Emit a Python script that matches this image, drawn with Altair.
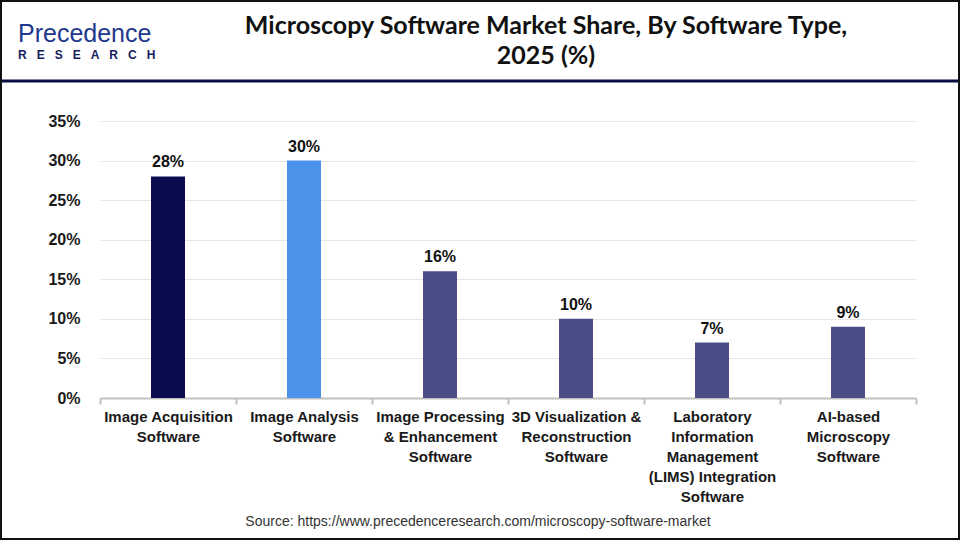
import json
import altair as alt
import pandas as pd

# Market share by software type, 2025 (%)
categories = [
    "Image Acquisition Software",
    "Image Analysis Software",
    "Image Processing & Enhancement Software",
    "3D Visualization & Reconstruction Software",
    "Laboratory Information Management (LIMS) Integration Software",
    "AI-based Microscopy Software",
]
label_lines = [
    ["Image Acquisition", "Software"],
    ["Image Analysis", "Software"],
    ["Image Processing", "& Enhancement", "Software"],
    ["3D Visualization &", "Reconstruction", "Software"],
    ["Laboratory", "Information", "Management", "(LIMS) Integration", "Software"],
    ["AI-based", "Microscopy", "Software"],
]
shares = [28, 30, 16, 10, 7, 9]
bar_colors = ["#0b0b50", "#4a92ea", "#4b4e86", "#4b4e86", "#4b4e86", "#4b4e86"]
y_ticks = [0, 5, 10, 15, 20, 25, 30, 35]

title_lines = ["Microscopy Software Market Share, By Software Type,", "2025 (%)"]
source_text = "Source: https://www.precedenceresearch.com/microscopy-software-market"

df = pd.DataFrame({"category": categories, "share": shares})

# multi-line x labels: look up each category's lines by its index
label_expr = "{}[indexof({}, datum.label)]".format(
    json.dumps(label_lines).replace('"', "'"),
    json.dumps(categories).replace('"', "'"),
)

PLOT_W, PLOT_H = 816, 277
PAD = {"left": 100, "top": 121, "right": 44, "bottom": 142}

base = alt.Chart(df)

x_enc = alt.X(
    "category:N",
    sort=categories,
    scale=alt.Scale(paddingInner=0, paddingOuter=0),
    axis=alt.Axis(
        title=None,
        labelExpr=label_expr,
        labelAngle=0,
        labelFont="Liberation Sans",
        labelFontSize=15,
        labelFontWeight="bold",
        labelColor="#1a1a1a",
        labelLimit=0,
        labelPadding=5,
        labelLineHeight=20,
        labelOverlap=False,
        domainColor="#c0c0c0",
        domainWidth=2,
        tickColor="#c0c0c0",
        tickWidth=2,
        tickSize=6,
        tickBand="extent",
        grid=False,
    ),
)
y_enc = alt.Y(
    "share:Q",
    scale=alt.Scale(domain=[0, 35], nice=False),
    axis=alt.Axis(
        title=None,
        values=y_ticks,
        tickCount=len(y_ticks),
        labelExpr="datum.value + '%'",
        labelFont="Liberation Sans",
        labelFontSize=16,
        labelFontWeight="bold",
        labelColor="#1a1a1a",
        labelPadding=20,
        labelOverlap=False,
        domain=False,
        ticks=False,
        grid=True,
        gridColor="#e6e6e6",
        gridWidth=1,
    ),
)

bars = base.mark_bar(size=34).encode(
    x=x_enc,
    y=y_enc,
    color=alt.Color(
        "category:N",
        scale=alt.Scale(domain=categories, range=bar_colors),
        legend=None,
    ),
)

values = base.transform_calculate(
    label="datum.share + '%'"
).mark_text(
    dy=-9,
    baseline="alphabetic",
    font="Liberation Sans",
    fontSize=16,
    fontWeight="bold",
    color="#111111",
).encode(
    x=x_enc,
    y=y_enc,
    text="label:N",
)

one = alt.Data(values=[{}])

# header: title, logo, separator, frame
title1 = alt.Chart(one).mark_text(
    align="center", baseline="alphabetic", font="Lato", fontWeight="bold",
    fontSize=25, color="#111111",
).encode(x=alt.value(446), y=alt.value(-87), text=alt.value(title_lines[0]))
title2 = alt.Chart(one).mark_text(
    align="center", baseline="alphabetic", font="Lato", fontWeight="bold",
    fontSize=25, color="#111111",
).encode(x=alt.value(446), y=alt.value(-57), text=alt.value(title_lines[1]))

logo1 = alt.Chart(one).mark_text(
    align="left", baseline="alphabetic", font="Liberation Sans",
    fontSize=25, color="#22388c",
).encode(x=alt.value(-82), y=alt.value(-79), text=alt.value("Precedence"))
logo2 = alt.Chart(one).mark_text(
    align="left", baseline="alphabetic", font="Liberation Sans", fontWeight="bold",
    fontSize=12, color="#15205e",
).encode(
    x=alt.value(-82), y=alt.value(-62),
    text=alt.value("\u00a0\u00a0\u00a0".join("RESEARCH")),
)

separator = alt.Chart(one).mark_rule(color="#0d0d45", strokeWidth=3).encode(
    x=alt.value(-100), x2=alt.value(860), y=alt.value(-40)
)
frame = alt.Chart(one).mark_rect(
    fillOpacity=0, stroke="#111111", strokeWidth=2
).encode(x=alt.value(-99), x2=alt.value(859), y=alt.value(-120), y2=alt.value(418))

source = alt.Chart(one).mark_text(
    align="center", baseline="alphabetic", font="Liberation Sans",
    fontSize=14, color="#333333",
).encode(x=alt.value(378), y=alt.value(405), text=alt.value(source_text))

chart = alt.layer(
    bars, values, title1, title2, logo1, logo2, separator, frame, source
).properties(
    width=PLOT_W,
    height=PLOT_H,
    padding=PAD,
    autosize=alt.AutoSizeParams(type="none"),
    background="white",
).configure_view(strokeWidth=0)

chart.save("out.html", embed_options={"renderer": "svg", "actions": False})
